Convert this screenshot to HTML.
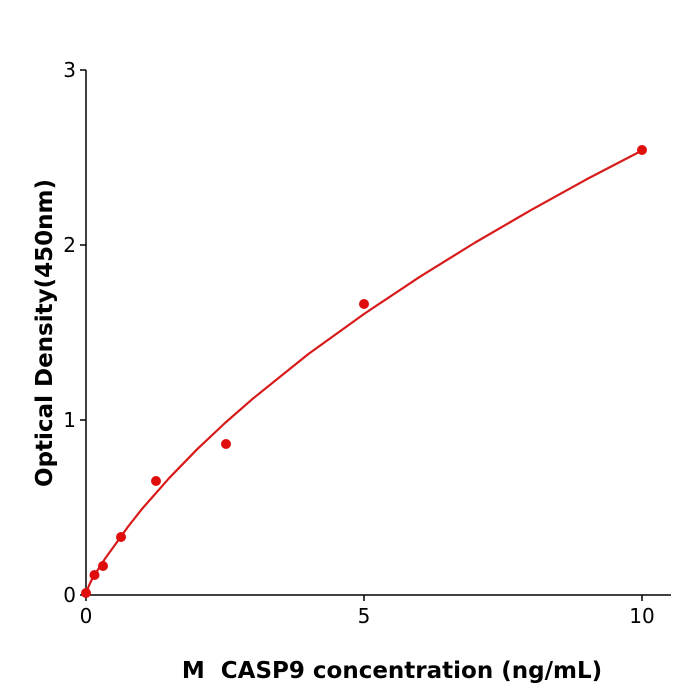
<!DOCTYPE html>
<html><head><style>body{margin:0;background:#fff}svg{display:block}</style></head><body>
<svg width="700" height="700" xmlns="http://www.w3.org/2000/svg" font-family="'DejaVu Sans','Liberation Sans',sans-serif">
<rect width="700" height="700" fill="#fff"/>
<g stroke="#000" stroke-width="1.5" fill="none">
<line x1="86" y1="70" x2="86" y2="596"/>
<line x1="85" y1="595" x2="671" y2="595"/>
<line x1="80" y1="595" x2="86" y2="595"/>
<line x1="80" y1="420" x2="86" y2="420"/>
<line x1="80" y1="245" x2="86" y2="245"/>
<line x1="80" y1="70" x2="86" y2="70"/>
<line x1="86" y1="595" x2="86" y2="601"/>
<line x1="364" y1="595" x2="364" y2="601"/>
<line x1="642" y1="595" x2="642" y2="601"/>
</g>
<g font-size="20" fill="#000">
<text x="76" y="602" text-anchor="end">0</text>
<text x="76" y="427" text-anchor="end">1</text>
<text x="76" y="252" text-anchor="end">2</text>
<text x="76" y="77" text-anchor="end">3</text>
<text x="86" y="623" text-anchor="middle">0</text>
<text x="364" y="623" text-anchor="middle">5</text>
<text x="642" y="623" text-anchor="middle">10</text>
</g>
<text x="392" y="678" text-anchor="middle" font-size="23" font-weight="bold" xml:space="preserve">M  CASP9 concentration (ng/mL)</text>
<text transform="translate(52,333) rotate(-90)" text-anchor="middle" font-size="23" font-weight="bold">Optical Density(450nm)</text>
<polyline fill="none" stroke="#d71a1a" stroke-width="2.2" stroke-linejoin="round" points="86,595 87.1,591 88.8,586 91.6,580 97.1,571 105.5,558 113.8,546.5 127.7,527.1 141.6,509.4 169.4,477.8 197.2,449.2 225,423 252.8,398.7 308.4,354 364,314 419.6,276.9 475.2,242.5 530.8,210.2 586.4,179.4 642,150.5"/>
<g fill="#e00d0d">
<circle cx="86" cy="593" r="5"/>
<circle cx="94.5" cy="575" r="5"/>
<circle cx="103" cy="566" r="5"/>
<circle cx="121" cy="537" r="5"/>
<circle cx="156" cy="481" r="5"/>
<circle cx="226" cy="444" r="5"/>
<circle cx="364" cy="304" r="5"/>
<circle cx="642" cy="150" r="5"/>
</g>
</svg>
</body></html>
